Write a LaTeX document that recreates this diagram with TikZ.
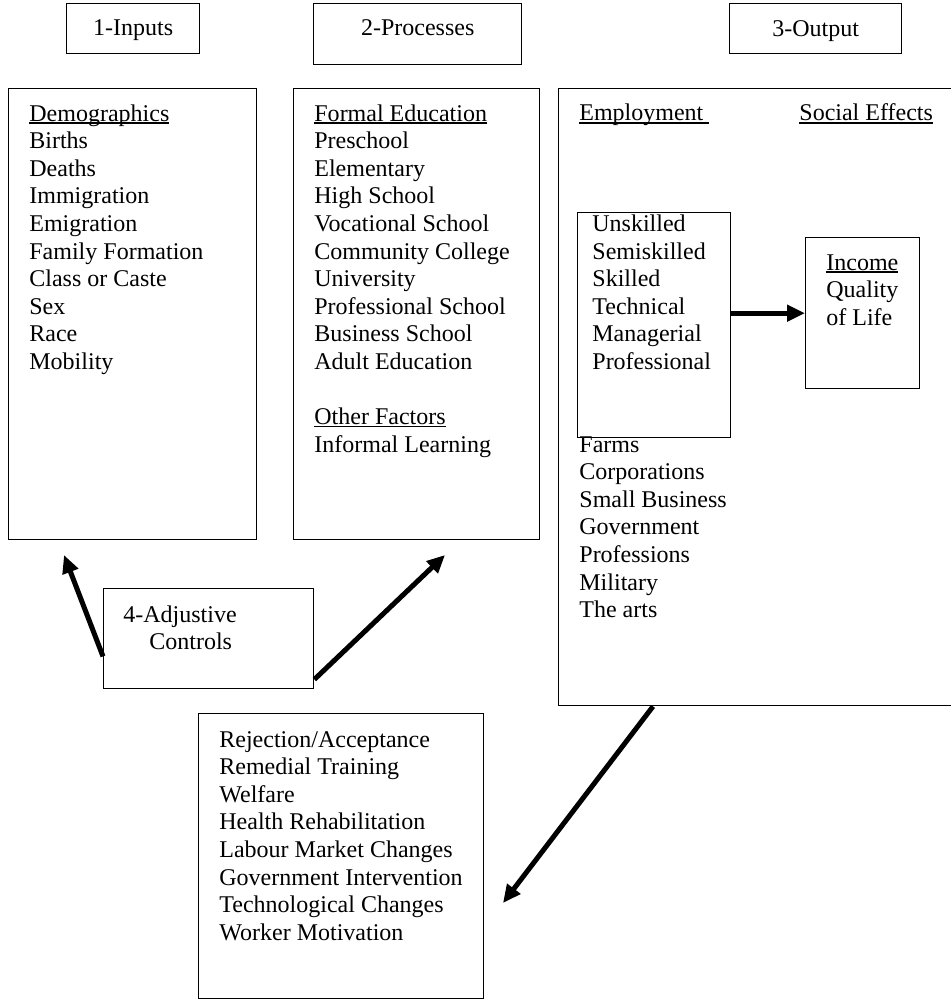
\documentclass[tikz,border=0pt]{standalone}
\usepackage{fontspec}
\setmainfont{Liberation Serif}
\usetikzlibrary{arrows.meta,calc}

\newcommand{\undl}[1]{\setbox0\hbox{#1}\rlap{\rule[-1.3pt]{\wd0}{0.6pt}}\box0}

\begin{document}
\begin{tikzpicture}[x=0.5pt,y=-0.5pt,
  box/.style={draw,line width=0.7pt,inner sep=0pt,anchor=north west,font=\fontsize{12}{13.8}\selectfont},
  txt/.style={anchor=base west,align=left,inner sep=0pt,font=\fontsize{12}{13.8}\selectfont},
  arr/.style={line width=2.5pt,-{Triangle[length=9pt,width=8pt]}}]
          \useasboundingbox (0,0) rectangle (950,1000);
          %headings

          \node[box,minimum width=66.5pt,text height=16pt,text depth=9pt] (inhead) at (66,3) {1-Inputs};
          \node[box,minimum width=104pt,text height=16pt,text depth=14.5pt] (prochead) at (313,3) {2-Processes};
          \node[box,minimum width=86pt,text height=16.5pt,text depth=8.5pt] (outhead) at (729,3) {3-Output};

          %main boxes
          \node[box,minimum width=124pt,minimum height=225.5pt] (inputs) at (8,88) {};
          \node[box,minimum width=123pt,minimum height=225.5pt] (processes) at (293,88) {};
          \node[box,minimum width=201pt,minimum height=308.5pt] (outputs) at (558,88) {};
          \node[box,minimum width=76.5pt,minimum height=112.5pt] (emp) at (577,212) {};
          \node[box,minimum width=57pt,minimum height=75.5pt] (inc) at (805,237) {};
          \node[box,minimum width=105pt,minimum height=50pt] (adj) at (103,588) {};
          \node[box,minimum width=142.5pt,minimum height=142.5pt] (remedy) at (198,713) {};

          %texts (placed at the baseline of their last line)
          \node[txt] (demo) at (29,369.4) {\undl{Demographics}\\Births\\Deaths\\Immigration\\Emigration\\Family Formation\\Class or Caste\\Sex\\Race\\Mobility};
          \node[txt] (edu) at (314,452.2) {\undl{Formal Education}\\Preschool\\Elementary\\High School\\Vocational School\\Community College\\University\\Professional School\\Business School\\Adult Education\\[13.8pt]\undl{Other Factors}\\Informal Learning};
          \node[txt] (emptxt) at (579,121) {\undl{Employment\ }};
          \node[txt] (soctxt) at (799,121) {\undl{Social Effects}};
          \node[txt] (skills) at (592,369.5) {Unskilled\\Semiskilled\\Skilled\\Technical\\Managerial\\Professional};
          \node[txt] (inctxt) at (826,325.2) {\undl{Income}\\Quality\\of Life};
          \node[txt] (sectors) at (579,617.6) {Farms\\Corporations\\Small Business\\Government\\Professions\\Military\\The arts};
          \node[txt] (adjtxt) at (123,649.6) {4-Adjustive\\\hspace*{13pt}Controls};
          \node[txt] (remtxt) at (219,940.2) {Rejection/Acceptance\\Remedial Training\\Welfare\\Health Rehabilitation\\Labour Market Changes\\Government Intervention\\Technological Changes\\Worker Motivation};

          %arrows
          \coordinate (tipin) at (64,555);
          \coordinate (tipproc) at (445,555);
          \coordinate (tiprem) at (503,903);
          \draw[arr] (emp.east |- inc.west) -- (inc.west);
          \draw[arr] ($(adj.south west)+(0,-33)$) -- (tipin);
          \draw[arr] ($(adj.south east)+(0,-10)$) -- (tipproc);
          \draw[arr] ($(outputs.south west)+(95,0)$) -- (tiprem);
          \end{tikzpicture}
\end{document}
